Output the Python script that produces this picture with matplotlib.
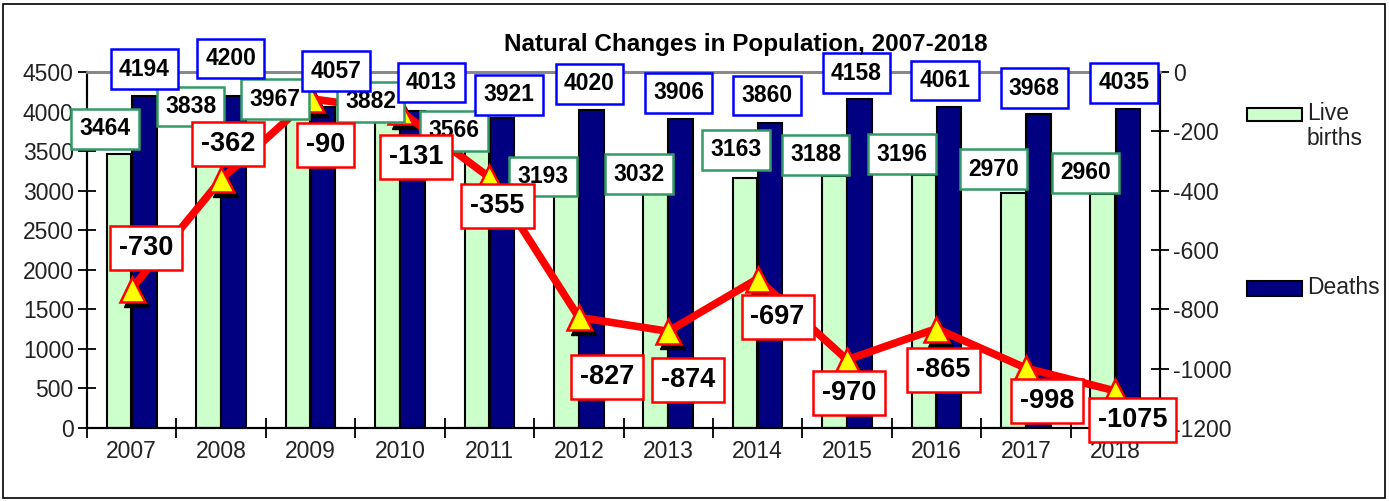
import matplotlib
matplotlib.use("Agg")
import matplotlib.pyplot as plt
import numpy as np
from matplotlib.patches import Rectangle
from matplotlib.transforms import offset_copy

plt.rcParams['font.family'] = ['Liberation Sans', 'DejaVu Sans']
plt.rcParams['axes.unicode_minus'] = False

years = ['2007', '2008', '2009', '2010', '2011', '2012', '2013', '2014', '2015', '2016', '2017', '2018']
live_births = [3464, 3838, 3967, 3882, 3566, 3193, 3032, 3163, 3188, 3196, 2970, 2960]
deaths = [4194, 4200, 4057, 4013, 3921, 4020, 3906, 3860, 4158, 4061, 3968, 4035]
natural_change = [-730, -362, -90, -131, -355, -827, -874, -697, -970, -865, -998, -1075]

# label offsets (pixels) relative to each mark
births_off = [(-14, 25), (-18, 18), (-23, 15), (-17, 19), (-23, 15), (-23, -1),
              (-17, 14), (-9, 28), (-19, 21), (-22, 21), (-20, 24), (-17, 21)]
deaths_off = [(0, 27), (-3, 37), (13, 36), (19, 28), (7, 23), (-2, 26),
              (-2, 26), (-3, 27), (-3, 26), (-4, 26), (-4, 26), (-4, 26)]
net_off = [(14, 41), (7, 35), (15, -46), (16, -46), (8, -29), (28, -60),
           (20, -49), (20, -38), (2, -33), (7, -41), (21, -33), (17, -29)]

fig = plt.figure(figsize=(13.89, 5.01), dpi=100)
ax = fig.add_axes([87/1389, 73/501, (1160-87)/1389, (428-72)/501])
ax2 = ax.twinx()

x = np.arange(len(years))
w = 0.275
ax.bar(x - 0.14, live_births, w, color='#CCFFCC', edgecolor='black', linewidth=1.5, zorder=2)
ax.bar(x + 0.14, deaths, w, color='#000080', edgecolor='black', linewidth=1.5, zorder=2)

ax.set_xlim(-0.5, len(years) - 0.5)
ax.set_ylim(0, 4500)
ax.set_yticks(np.arange(0, 4501, 500))
ax2.set_ylim(-1200, 0)
ax2.set_yticks(np.arange(-1200, 1, 200))

ax.set_xticks(np.arange(-0.5, len(years), 1))
ax.set_xticklabels([])
ax.set_xticks(x, minor=True)
ax.set_xticklabels(years, minor=True)
ax.tick_params(axis='x', which='major', direction='inout', length=14, width=1.3, color='black')
ax.tick_params(axis='x', which='minor', length=0, labelsize=16.5, labelcolor='#222222', pad=9)
ax.tick_params(axis='y', direction='inout', length=13, width=1.3, labelsize=16.5, labelcolor='#222222', pad=3)
ax2.tick_params(axis='y', direction='inout', length=13, width=1.3, labelsize=16.5, labelcolor='#222222', pad=3)

for a in (ax, ax2):
    a.spines['top'].set_color('#888888')
    a.spines['top'].set_linewidth(2)
    for s in ('left', 'right', 'bottom'):
        a.spines[s].set_color('black')
        a.spines[s].set_linewidth(1.5)

# net change line with shadowed triangles
shadow = offset_copy(ax2.transData, fig=fig, x=4, y=-5, units='dots')
ax2.plot(x, natural_change, linestyle='none', marker='^', markersize=18, color='black', transform=shadow, zorder=3)
ax2.plot(x, natural_change, color='#FF0000', linewidth=5.5, marker='^', markersize=18,
         markerfacecolor='#FFFF00', markeredgecolor='#FF0000', markeredgewidth=1.8, zorder=4)

lab_kw = dict(textcoords='offset pixels', ha='center', va='center', fontweight='bold',
              annotation_clip=False)
for i, v in enumerate(live_births):
    ax2.annotate(str(v), xy=(x[i] - 0.14, v), xycoords=ax.transData, xytext=births_off[i],
                 fontsize=16.5, zorder=6,
                 bbox=dict(boxstyle='square,pad=0.36', fc='white', ec='#339966', lw=1.8), **lab_kw)
for i, v in enumerate(deaths):
    ax2.annotate(str(v), xy=(x[i] + 0.14, v), xycoords=ax.transData, xytext=deaths_off[i],
                 fontsize=16.5, zorder=7,
                 bbox=dict(boxstyle='square,pad=0.36', fc='white', ec='#0000FF', lw=1.8), **lab_kw)
for i, v in enumerate(natural_change):
    ax2.annotate(str(v), xy=(x[i], v), xycoords=ax2.transData, xytext=net_off[i],
                 fontsize=19.5, zorder=8,
                 bbox=dict(boxstyle='square,pad=0.33', fc='white', ec='#FF0000', lw=1.8), **lab_kw)

fig.text(746/1389, 1 - 45/501, 'Natural Changes in Population, 2007-2018', ha='center', va='center',
         fontsize=17.5, fontweight='bold')

# legend
fig.add_artist(Rectangle((1247/1389, 1 - 121/501), 55/1389, 13/501, transform=fig.transFigure,
                         fc='#CCFFCC', ec='black', lw=1.5))
fig.text(1307/1389, 1 - 126/501, 'Live\nbirths', ha='left', va='center', fontsize=16.5, color='#222222',
         linespacing=1.15)
fig.add_artist(Rectangle((1247/1389, 1 - 296/501), 55/1389, 15/501, transform=fig.transFigure,
                         fc='#000080', ec='black', lw=1.5))
fig.text(1307/1389, 1 - 288/501, 'Deaths', ha='left', va='center', fontsize=16.5, color='#222222')

# outer frame
fig.add_artist(Rectangle((3/1389, 3/501), 1382/1389, 494/501, transform=fig.transFigure,
                         fill=False, ec='black', lw=1.2))

fig.savefig('out.png', dpi=100)
